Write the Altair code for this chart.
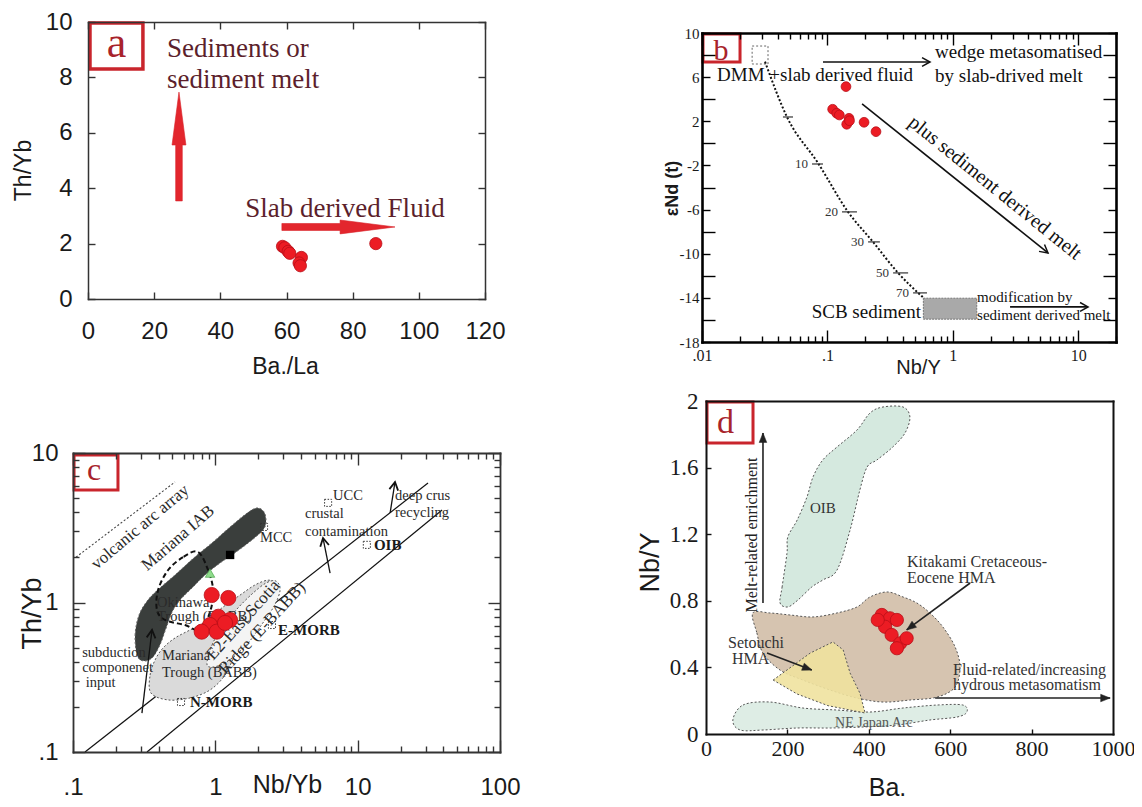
import altair as alt
import pandas as pd

W, H = 1126, 791
SERIF = "Liberation Serif, Times New Roman, serif"
NARROW = "Liberation Sans Narrow, Arial Narrow, Liberation Sans, Arial, sans-serif"
SANS = "Liberation Sans, Arial, sans-serif"
RED, RED_EDGE = "#ec1c24", "#b80f18"
BOX, BOXTXT = "#c9252c", "#a8232b"

# ================= Panel a : Th/Yb vs Ba/La =================
a_ba_la = [58.8, 59.5, 60.5, 61.0, 64.5, 63.8, 64.2, 87.0]
a_th_yb = [1.90, 1.85, 1.72, 1.65, 1.50, 1.30, 1.20, 2.00]
a_up_x = [26.5, 28.5, 28.5, 29.6, 27.5, 25.4, 26.5]
a_up_y = [3.54, 3.54, 5.56, 5.56, 7.47, 5.56, 5.56]
a_rt_x = [58.6, 76.2, 76.2, 92.8, 76.2, 76.2, 58.6]
a_rt_y = [2.474, 2.474, 2.35, 2.60, 2.85, 2.726, 2.726]
a_notes = ["Sediments or", "sediment melt", "Slab derived Fluid"]
a_notes_x = [23.9, 23.9, 47.5]
a_notes_y = [8.74, 7.62, 2.97]
a_xticks = [0, 20, 40, 60, 80, 100, 120]
a_yticks = [0, 2, 4, 6, 8, 10]

# ================= Panel b : eNd(t) vs Nb/Y =================
b_nb_y = [0.1406, 0.1101, 0.1186, 0.1245, 0.1486, 0.1425, 0.150, 0.196, 0.244]
b_end = [5.14, 3.09, 2.73, 2.57, 2.27, 1.73, 2.05, 1.91, 1.06]
b_mix_x = [0.0318, 0.0476, 0.0841, 0.146, 0.231, 0.366, 0.578]
b_mix_y = [7.40, 2.39, -1.78, -6.21, -8.93, -11.74, -13.95]
b_dash_x1 = [0.0442, 0.0753, 0.1306, 0.211, 0.334, 0.482]
b_dash_x2 = [0.0532, 0.0922, 0.172, 0.262, 0.44, 0.622]
b_dash_y = [2.39, -1.87, -6.21, -8.93, -11.74, -13.55]
b_pct = ["10", "20", "30", "50", "70"]
b_pct_x = [0.070, 0.1215, 0.196, 0.31, 0.448]
b_pct_y = [-1.87, -6.21, -8.93, -11.74, -13.55]
b_notes = ["DMM +slab derived fluid", "wedge metasomatised", "by slab-drived melt"]
b_notes_x = [0.01318, 0.721, 0.721]
b_notes_y = [5.65, 7.74, 5.56]
b_small = ["modification by", "sediment derived melt"]
b_small_x = [1.56, 1.56]
b_small_y = [-14.37, -16.0]
b_xticks = [0.01, 0.1, 1, 10]
b_xminor = [round(k * d, 3) for d in (0.01, 0.1, 1) for k in range(1, 10)] + [10, 20]
b_yticks = [10, 6, 2, -2, -6, -10, -14, -18]
b_yminor = list(range(-18, 11, 2))

# ================= Panel c : Th/Yb vs Nb/Yb =================
c_nb_yb = [0.943, 1.234, 1.050, 1.268, 0.918, 0.802, 1.023, 1.17]
c_th_yb = [1.122, 1.072, 0.803, 0.764, 0.707, 0.638, 0.638, 0.73]
c_iab_x = [0.282, 0.273, 0.291, 0.336, 0.408, 0.530, 0.708, 0.964, 1.27, 1.64, 1.96, 2.20, 2.27,
           2.16, 1.81, 1.40, 1.08, 0.847, 0.685, 0.565, 0.497, 0.451, 0.408, 0.359, 0.310]
c_iab_y = [0.446, 0.606, 0.825, 1.04, 1.25, 1.55, 1.99, 2.54, 3.20, 3.91, 4.29, 4.03, 3.45,
           3.05, 2.62, 2.18, 1.84, 1.53, 1.25, 1.04, 0.864, 0.674, 0.520, 0.425, 0.407]
c_babb_x = [0.353, 0.348, 0.377, 0.429, 0.521, 0.664, 0.847, 1.11, 1.49, 1.90, 2.35, 2.71, 2.67,
            2.13, 1.62, 1.37, 1.17, 0.918, 0.664, 0.466]
c_babb_y = [0.248, 0.327, 0.412, 0.496, 0.579, 0.655, 0.741, 0.919, 1.12, 1.31, 1.41, 1.33, 1.10,
            0.864, 0.606, 0.446, 0.327, 0.260, 0.230, 0.223]
c_e2_x = [0.875, 0.949, 1.11, 1.40, 1.81, 2.27, 2.67, 2.85, 2.59, 2.13, 1.70, 1.31, 1.04]
c_e2_y = [0.382, 0.520, 0.674, 0.891, 1.14, 1.35, 1.39, 1.21, 0.948, 0.718, 0.536, 0.425, 0.376]
c_oki_x = [0.755, 0.593, 0.466, 0.396, 0.389, 0.443, 0.612, 0.780, 0.918, 0.964, 0.889]
c_oki_y = [2.18, 2.01, 1.65, 1.21, 0.891, 0.764, 0.707, 0.655, 0.864, 1.21, 1.65]
c_ref_x = [6.20, 2.20, 11.6, 2.50, 0.574]          # UCC, MCC, OIB, E-MORB, N-MORB
c_ref_y = [4.64, 3.20, 2.43, 0.707, 0.216]
c_reg = ["UCC", "MCC", "crustal", "contamination", "deep crus", "recycling", "subduction",
         "componenet", "input", "Okinawa", "Trough (BABB)", "Mariana", "Trough (BABB)"]
c_reg_x = [6.71, 2.06, 4.27, 4.27, 18.3, 18.3, 0.116, 0.116, 0.123, 0.389, 0.389, 0.422, 0.422]
c_reg_y = [4.85, 2.54, 3.67, 2.79, 4.85, 3.73, 0.432, 0.343, 0.272, 0.93, 0.748, 0.412, 0.318]
c_bold = ["OIB", "E-MORB", "N-MORB"]
c_bold_x = [13.0, 2.76, 0.664]
c_bold_y = [2.24, 0.606, 0.200]
c_rot = ["volcanic arc array", "Mariana IAB", "E2-East Scotia", "Ridge (E-BABB)"]
c_rot_x = [0.296, 0.547, 1.57, 2.13]
c_rot_y = [3.20, 2.70, 0.764, 0.674]
c_rot_a = [320, 319, 312, 313]
c_line_x1 = [0.1214, 0.331]
c_line_y1 = [0.1, 0.1]
c_line_x2 = [31.2, 39.2]
c_line_y2 = [6.30, 4.16]
c_arr_x1 = [6.40, 16.9, 0.305]
c_arr_y1 = [1.57, 3.97, 0.182]
c_arr_x2 = [5.71, 18.3, 0.359]
c_arr_y2 = [2.70, 6.40, 0.655]
c_arr_a = [258.7, 279.2, 276.9]
c_xticks = [0.1, 1, 10, 100]
c_yticks = [0.1, 1, 10]
c_xminor = [round(k * d, 3) for d in (0.1, 1, 10) for k in range(1, 10)] + [100]
c_yminor = [round(k * d, 3) for d in (0.1, 1) for k in range(1, 10)] + [10]

# ================= Panel d : Nb/Y vs Ba =================
d_ba = [432, 452, 469, 440, 456, 477, 493, 469, 422]
d_nb_y = [0.715, 0.695, 0.685, 0.644, 0.595, 0.545, 0.575, 0.515, 0.685]
d_oib_x = [182, 187, 199, 201, 224, 248, 263, 287, 322, 371, 403, 435, 484, 501, 489, 459, 420,
           396, 378, 354, 322, 287, 260, 226, 201]
d_oib_y = [0.787, 0.883, 1.087, 1.183, 1.285, 1.423, 1.544, 1.646, 1.724, 1.826, 1.928, 1.964,
           1.964, 1.904, 1.808, 1.724, 1.646, 1.604, 1.465, 1.225, 0.985, 0.925, 0.883, 0.805, 0.763]
d_kit_x = [115, 125, 140, 182, 238, 305, 371, 435, 501, 568, 612, 624, 612, 582, 550, 518, 484,
           445, 403, 371, 322, 263, 206, 157]
d_kit_y = [0.727, 0.607, 0.486, 0.384, 0.324, 0.264, 0.216, 0.192, 0.204, 0.222, 0.282, 0.402,
           0.523, 0.643, 0.727, 0.787, 0.823, 0.853, 0.823, 0.763, 0.727, 0.703, 0.715, 0.727]
d_set_x = [165, 256, 312, 337, 354, 378, 391, 300, 224]
d_set_y = [0.324, 0.486, 0.553, 0.505, 0.366, 0.246, 0.126, 0.17, 0.24]
d_ne_x = [66, 91, 157, 238, 322, 403, 484, 568, 631, 641, 617, 550, 469, 386, 305, 224, 140, 84]
d_ne_y = [0.084, 0.174, 0.192, 0.156, 0.144, 0.132, 0.156, 0.174, 0.174, 0.132, 0.102, 0.084,
          0.054, 0.042, 0.036, 0.036, 0.024, 0.024]
d_notes = ["Kitakami Cretaceous-", "Eocene HMA", "Setouchi", "HMA",
           "Fluid-related/increasing", "hydrous metasomatism"]
d_notes_x = [494, 494, 54, 64, 607, 607]
d_notes_y = [1.003, 0.907, 0.517, 0.42, 0.354, 0.264]
d_arr_x1 = [140, 563, 649, 150]
d_arr_y1 = [0.787, 0.216, 0.907, 0.486]
d_arr_x2 = [140, 993, 493, 260]
d_arr_y2 = [1.808, 0.216, 0.625, 0.384]
d_arr_a = [270, 0, 143.4, 20.7]
d_xticks = [0, 200, 400, 600, 800, 1000]
d_yticks = [0, 0.4, 0.8, 1.2, 1.6, 2]

OPEN = "M-2,-1.1L0,0L-2,1.1"
FILLED = "M0,0L-2,-0.8L-2,0.8Z"


# ----------------- helpers -----------------
def XY(xs, ys):
    return dict(x=alt.X("x:Q", scale=xs, axis=None), y=alt.Y("y:Q", scale=ys, axis=None))


def lab_axis(orient, offset, values, font, size, pad, title, tx, ty, tfont, tsize,
             tweight="normal", expr="'' + datum.value"):
    return alt.Axis(orient=orient, offset=offset, values=values, labels=True, ticks=False,
                    domain=False, grid=False, labelFont=font, labelFontSize=size,
                    labelColor="#1a1a1a", labelPadding=pad, labelFlush=False,
                    labelOverlap=False, labelExpr=expr, title=title, titleX=tx, titleY=ty,
                    titleFont=tfont, titleFontSize=tsize, titleFontWeight=tweight,
                    titleColor="#1a1a1a", titleAlign="center", titleBaseline="middle",
                    titleAngle=270 if orient in ("left", "right") else 0, zindex=2)


def tick_axis(orient, offset, values, size, color, dwidth, ticks=True):
    kw = dict(orient=orient, offset=offset, labels=False, domain=True, domainColor=color,
              domainWidth=dwidth, domainCap="square", grid=False, title=None, zindex=2,
              ticks=ticks)
    if ticks:
        kw.update(values=values, tickSize=size, tickColor=color, tickWidth=1.4)
    return alt.Axis(**kw)


def frame(xs, ys, x0, y0, pairs):
    d = pd.DataFrame({"x": [x0], "y": [y0]})
    return [alt.Chart(d).mark_point(opacity=0).encode(
        x=alt.X("x:Q", scale=xs, axis=ax), y=alt.Y("y:Q", scale=ys, axis=ay)) for ax, ay in pairs]


def poly(xs, ys, xv, yv, fill, stroke, width=1.2, dash=None, interp="cardinal-closed", fop=1.0):
    df = pd.DataFrame({"x": xv, "y": yv, "i": list(range(len(xv)))})
    m = dict(interpolate=interp, stroke=stroke, strokeWidth=width)
    if fill:
        m.update(fill=fill, fillOpacity=fop)
    if dash:
        m["strokeDash"] = dash
    return alt.Chart(df).mark_line(**m).encode(**XY(xs, ys), order="i:Q")


def texts(xs, ys, xv, yv, labels, font, size, color, align="left", baseline="alphabetic",
          weight="normal", angle=None):
    df = pd.DataFrame({"x": xv, "y": yv, "t": labels})
    m = dict(font=font, fontSize=size, color=color, align=align, baseline=baseline,
             fontWeight=weight)
    enc = XY(xs, ys)
    enc["text"] = "t:N"
    if angle is not None:
        df["a"] = angle
        enc["angle"] = alt.Angle("a:Q", scale=None)
    return alt.Chart(df).mark_text(**m).encode(**enc)


def dots(xs, ys, xv, yv, size):
    df = pd.DataFrame({"x": xv, "y": yv})
    return alt.Chart(df).mark_circle(size=size, color=RED, stroke=RED_EDGE, strokeWidth=0.8,
                                     opacity=1).encode(**XY(xs, ys))


def segs(xs, ys, x1, y1, x2, y2, color, width, dash=None):
    df = pd.DataFrame({"x": x1, "y": y1, "x2": x2, "y2": y2})
    m = dict(color=color, strokeWidth=width)
    if dash:
        m["strokeDash"] = dash
    return alt.Chart(df).mark_rule(**m).encode(**XY(xs, ys), x2="x2:Q", y2="y2:Q")


def heads(xs, ys, xv, yv, angles, size, color, filled, width=1.5):
    df = pd.DataFrame({"x": xv, "y": yv, "a": angles})
    if filled:
        mk = alt.Chart(df).mark_point(shape=FILLED, size=size, filled=True, fill=color,
                                      stroke=color, strokeWidth=0.5, opacity=1)
    else:
        mk = alt.Chart(df).mark_point(shape=OPEN, size=size, filled=False, stroke=color,
                                      strokeWidth=width, opacity=1)
    return mk.encode(**XY(xs, ys), angle=alt.Angle("a:Q", scale=None))


def rects(xs, ys, x1, x2, y1, y2, fill, stroke, width, dash=None):
    df = pd.DataFrame({"x": x1, "x2": x2, "y": y1, "y2": y2})
    m = dict(fill=fill, stroke=stroke, strokeWidth=width)
    if dash:
        m["strokeDash"] = dash
    return alt.Chart(df).mark_rect(**m).encode(**XY(xs, ys), x2="x2:Q", y2="y2:Q")


def panel(layers):
    return alt.layer(*layers).resolve_scale(x="shared", y="shared").resolve_axis(
        x="independent", y="independent")


LOGMAJ = {"condition": {"test": "abs(log(datum.value)/LN10 - round(log(datum.value)/LN10)) < 0.01",
                        "value": 12}, "value": 6}

# ----------------- panel a -----------------
AX = alt.Scale(type="linear", domain=[0, 120], range=[80, 477], nice=False, zero=False)
AY = alt.Scale(type="linear", domain=[0, 10], range=[291, 14], nice=False, zero=False)
pa = panel(frame(AX, AY, 0, 0, [
    (lab_axis("bottom", 291 - H, a_xticks, NARROW, 24, 20, "Ba./La", 277, 67, NARROW, 23),
     lab_axis("left", -80, a_yticks, NARROW, 24, 16, "Th/Yb", -65, 162, NARROW, 23)),
    (tick_axis("top", -291, a_xticks, 7, "#333", 1.5),
     tick_axis("right", 80 - W, a_yticks, 7, "#333", 1.5)),
    (tick_axis("bottom", 14 - H, a_xticks, 7, "#333", 1.5),
     tick_axis("left", -477, a_yticks, 7, "#333", 1.5)),
]) + [
    poly(AX, AY, a_up_x, a_up_y, "#e3262d", "#d8232a", 0.6, interp="linear-closed"),
    poly(AX, AY, a_rt_x, a_rt_y, "#e3262d", "#d8232a", 0.6, interp="linear-closed"),
    texts(AX, AY, a_notes_x, a_notes_y, a_notes, SERIF, 27, "#5c1f2c"),
    dots(AX, AY, a_ba_la, a_th_yb, 150),
    rects(AX, AY, [0.6], [16.6], [8.3], [9.96], "white", BOX, 3.5),
    texts(AX, AY, [8.6], [8.74], ["a"], SERIF, 44, BOXTXT, align="center"),
])

# ----------------- panel b -----------------
BX = alt.Scale(type="log", domain=[0.01, 20], range=[694, 1108], nice=False)
BY = alt.Scale(type="linear", domain=[-18, 10], range=[334, 25], nice=False, zero=False)
BYMAJ = {"condition": {"test": "abs((datum.value + 18) % 4) == 2", "value": 13}, "value": 8}
pb = panel(frame(BX, BY, 0.01, -18, [
    (lab_axis("bottom", 334 - H, b_xticks, SERIF, 16, 5, "Nb/Y", 910, 25, NARROW, 20,
              expr="datum.value < 0.05 ? '.01' : datum.value < 0.5 ? '.1' : '' + datum.value"),
     lab_axis("left", -694, b_yticks, SERIF, 15, 3, "\u03b5Nd (t)", -30, 180, SANS, 18, "bold")),
    (tick_axis("top", -334, b_xminor, LOGMAJ, "#000", 2.6),
     tick_axis("right", 694 - W, b_yminor, BYMAJ, "#000", 2.6)),
    (tick_axis("bottom", 25 - H, b_xminor, LOGMAJ, "#000", 2.6),
     tick_axis("left", -1108, b_yminor, BYMAJ, "#000", 2.6)),
]) + [
    rects(BX, BY, [0.582], [1.551], [-15.93], [-14.03], "#a9a9a9", "#777", 1, [2, 1]),
    rects(BX, BY, [0.0251], [0.0336], [7.19], [8.82], "none", "#666", 1, [2, 2]),
    poly(BX, BY, b_mix_x, b_mix_y, None, "#111", 2, [2, 2], interp="monotone"),
    segs(BX, BY, b_dash_x1, b_dash_y, b_dash_x2, b_dash_y, "#333", 1.2),
    texts(BX, BY, b_pct_x, b_pct_y, b_pct, SERIF, 13, "#333", align="right", baseline="middle"),
    segs(BX, BY, [0.0922, 0.189, 2.86], [7.37, 3.57, -14.82], [0.658, 5.74, 11.97],
         [7.37, -9.93, -14.82], "#111", 1.6),
    heads(BX, BY, [0.658, 5.74, 11.97], [7.37, -9.93, -14.82], [0, 38.7, 0], 64, "#111", False, 1.5),
    texts(BX, BY, b_notes_x, b_notes_y, b_notes, SERIF, 19, "#111"),
    texts(BX, BY, [0.557], [-15.82], ["SCB sediment"], SERIF, 19, "#111", align="right"),
    texts(BX, BY, b_small_x, b_small_y, b_small, SERIF, 15, "#111"),
    texts(BX, BY, [2.17], [-4.04], ["plus sediment derived melt"], SERIF, 20, "#111",
          align="center", baseline="middle", angle=[39]),
    dots(BX, BY, b_nb_y, b_end, 95),
    rects(BX, BY, [0.01018], [0.0201], [7.37], [9.91], "white", BOX, 3),
    texts(BX, BY, [0.0142], [7.55], ["b"], SERIF, 30, BOXTXT, align="center"),
])

# ----------------- panel c -----------------
CX = alt.Scale(type="log", domain=[0.1, 100], range=[65, 492], nice=False)
CY = alt.Scale(type="log", domain=[0.1, 10], range=[744, 445], nice=False)
pc = panel(frame(CX, CY, 0.1, 0.1, [
    (lab_axis("bottom", 744 - H, c_xticks, NARROW, 24, 23, "Nb/Yb", 279, 32, NARROW, 25,
              expr="datum.value < 0.5 ? '.1' : '' + datum.value"),
     lab_axis("left", -65, c_yticks, NARROW, 24, 15, "Th/Yb", -41, 605, NARROW, 27,
              expr="datum.value < 0.5 ? '.1' : '' + datum.value")),
    (tick_axis("top", -744, c_xminor, LOGMAJ, "#333", 1.8),
     tick_axis("right", 65 - W, c_yminor, LOGMAJ, "#333", 1.8)),
    (tick_axis("bottom", 445 - H, c_xminor, LOGMAJ, "#333", 1.8),
     tick_axis("left", -492, c_yminor, LOGMAJ, "#333", 1.8)),
]) + [
    segs(CX, CY, c_line_x1, c_line_y1, c_line_x2, c_line_y2, "#111", 1.2),
    segs(CX, CY, [0.105], [2.01], [0.521], [6.40], "#444", 1.1, [2, 2]),
    poly(CX, CY, c_babb_x, c_babb_y, "#dadada", "#555", 1, [2, 2]),
    poly(CX, CY, c_e2_x, c_e2_y, "#f4f4f4", "#555", 1, [2, 2]),
    poly(CX, CY, c_iab_x, c_iab_y, "#3a3e3c", "#666", 1, [2, 2]),
    poly(CX, CY, c_oki_x, c_oki_y, None, "#111", 2, [5, 3]),
    segs(CX, CY, c_arr_x1, c_arr_y1, c_arr_x2, c_arr_y2, "#111", 1.3),
    heads(CX, CY, c_arr_x2, c_arr_y2, c_arr_a, 64, "#111", False, 1.8),
    alt.Chart(pd.DataFrame({"x": c_ref_x, "y": c_ref_y})).mark_point(
        shape="square", size=50, filled=False, stroke="#333", strokeWidth=1,
        strokeDash=[1.5, 1.5], opacity=1).encode(**XY(CX, CY)),
    alt.Chart(pd.DataFrame({"x": [1.27], "y": [2.08]})).mark_point(
        shape="square", size=70, filled=True, fill="#000", opacity=1).encode(**XY(CX, CY)),
    alt.Chart(pd.DataFrame({"x": [0.918], "y": [1.57]})).mark_point(
        shape="triangle-up", size=90, filled=True, fill="#8fdc8c", stroke="#3c9a3c",
        strokeWidth=0.6, opacity=1).encode(**XY(CX, CY)),
    texts(CX, CY, c_reg_x, c_reg_y, c_reg, SERIF, 14.5, "#2a2a2a"),
    texts(CX, CY, c_bold_x, c_bold_y, c_bold, SERIF, 15, "#1a1a1a", weight="bold"),
    texts(CX, CY, c_rot_x, c_rot_y, c_rot, SERIF, 17, "#2a2a2a", align="center",
          baseline="middle", angle=c_rot_a),
    dots(CX, CY, c_nb_yb, c_th_yb, 230),
    rects(CX, CY, [0.1017], [0.207], [5.66], [9.70], "white", BOX, 3),
    texts(CX, CY, [0.1406], [6.59], ["c"], SERIF, 32, BOXTXT, align="center"),
])

# ----------------- panel d -----------------
DX = alt.Scale(type="linear", domain=[0, 1000], range=[698, 1105], nice=False, zero=False)
DY = alt.Scale(type="linear", domain=[0, 2], range=[726, 393], nice=False, zero=False)
pd_ = panel(frame(DX, DY, 0, 0, [
    (lab_axis("bottom", 726 - H, d_xticks, SERIF, 22, 4, "Ba.", 879, 53, NARROW, 25),
     lab_axis("left", -698, d_yticks, SERIF, 23, 8, "Nb/Y", -56, 554, NARROW, 27)),
    (tick_axis("top", -726, [200, 400, 600, 800], 5, "#111", 2),
     tick_axis("right", 698 - W, [0.4, 0.8, 1.2, 1.6], 5, "#111", 2)),
    (tick_axis("bottom", 393 - H, [], 5, "#111", 2, ticks=False),
     tick_axis("left", -1105, [], 5, "#111", 2, ticks=False)),
]) + [
    poly(DX, DY, d_kit_x, d_kit_y, "#d6c4b0", "#555", 1, [2, 2]),
    poly(DX, DY, d_ne_x, d_ne_y, "#deede5", "#555", 1, [2, 2]),
    poly(DX, DY, d_set_x, d_set_y, "#efe29e", "#555", 1, [2, 2], interp="linear-closed", fop=0.9),
    poly(DX, DY, d_oib_x, d_oib_y, "#d5e9df", "#555", 1, [2, 2]),
    segs(DX, DY, d_arr_x1, d_arr_y1, d_arr_x2, d_arr_y2, "#222", 1.6),
    heads(DX, DY, d_arr_x2, d_arr_y2, d_arr_a, 90, "#222", True),
    texts(DX, DY, d_notes_x, d_notes_y, d_notes, SERIF, 16, "#333"),
    texts(DX, DY, [287], [1.357], ["OIB"], SERIF, 15, "#333", align="center", baseline="middle"),
    texts(DX, DY, [317], [0.042], ["NE Japan Arc"], SERIF, 14, "#555"),
    texts(DX, DY, [113], [1.195], ["Melt-related enrichment"], SERIF, 16, "#222",
          align="center", baseline="middle", angle=[270]),
    dots(DX, DY, d_ba, d_nb_y, 175),
    rects(DX, DY, [2.5], [115.5], [1.748], [1.994], "white", BOX, 3),
    texts(DX, DY, [48], [1.808], ["d"], SERIF, 34, BOXTXT, align="center"),
])

chart = alt.layer(pa, pb, pc, pd_).resolve_scale(
    x="independent", y="independent").properties(
    width=W, height=H, padding=0, autosize=alt.AutoSizeParams(type="none")
).configure_view(stroke=None)

chart.save("out.html", embed_options={"renderer": "svg", "actions": False})
